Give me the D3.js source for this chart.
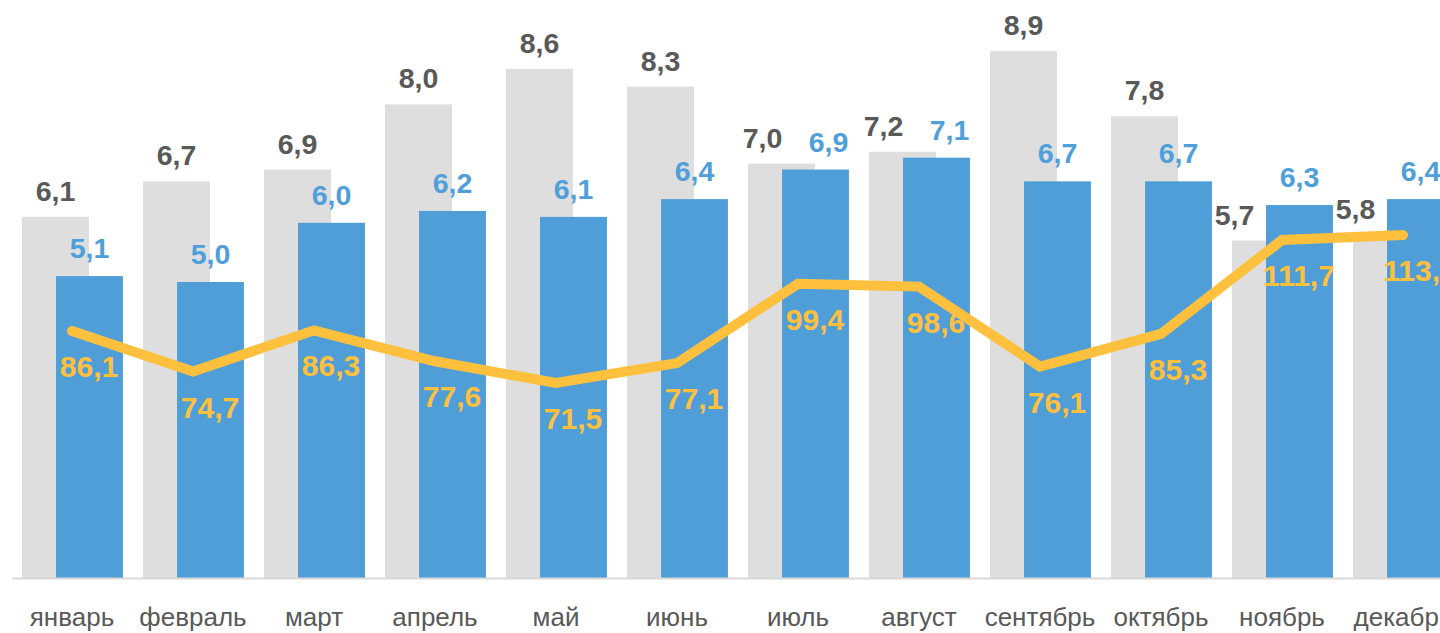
<!DOCTYPE html>
<meta charset="utf-8">

<body style="margin:0;background:#fff;">
    <svg width="1440" height="633"></svg>
</body>
<script src="https://cdn.jsdelivr.net/npm/d3@7"></script>
<script>
    // данные
    let months = ['январь', 'февраль', 'март', 'апрель', 'май', 'июнь', 'июль', 'август', 'сентябрь', 'октябрь', 'ноябрь', 'декабрь'];
    let prevYear = [6.1, 6.7, 6.9, 8.0, 8.6, 8.3, 7.0, 7.2, 8.9, 7.8, 5.7, 5.8];
    let curYear = [5.1, 5.0, 6.0, 6.2, 6.1, 6.4, 6.9, 7.1, 6.7, 6.7, 6.3, 6.4];
    let ratio = [86.1, 74.7, 86.3, 77.6, 71.5, 77.1, 99.4, 98.6, 76.1, 85.3, 111.7, 113.1];

    let svg = d3.select('svg'),
        baseY = 578,
        fmt = (v) => v.toFixed(1).replace('.', ',');

    let x = d3.scaleBand().domain(months).range([11.5, 1463.5]);
    let step = x.step(),
        barW = step * 0.553,
        greyOff = step * 0.087,
        blueOff = step * 0.368;

    let y = d3.scaleLinear().domain([0, 9.5]).range([baseY, baseY - 562.4]);
    let y2 = d3.scaleLinear().domain([0, 160]).range([637.2, 68.3]);

    let rows = months.map((m, i) => ({ m, p: prevYear[i], c: curYear[i], r: ratio[i] }));

    // серые столбцы
    svg.append('g').selectAll('rect').data(rows).join('rect')
        .attr('x', d => x(d.m) + greyOff)
        .attr('y', d => y(d.p))
        .attr('width', barW)
        .attr('height', d => baseY - y(d.p))
        .attr('fill', '#DEDEDE');

    // синие столбцы
    svg.append('g').selectAll('rect').data(rows).join('rect')
        .attr('x', d => x(d.m) + blueOff)
        .attr('y', d => y(d.c))
        .attr('width', barW)
        .attr('height', d => baseY - y(d.c))
        .attr('fill', '#4F9ED8');

    // ось
    svg.append('line')
        .attr('x1', 12).attr('x2', 1440)
        .attr('y1', baseY + 0.5).attr('y2', baseY + 0.5)
        .attr('stroke', '#D9D9D9').attr('stroke-width', 2);

    let axis = d3.axisBottom(x).tickSize(0).tickPadding(30);
    let ax = svg.append('g').attr('transform', `translate(0,${baseY})`).call(axis);
    ax.select('.domain').remove();
    ax.selectAll('text')
        .attr('fill', '#595959')
        .style('font', '26px "Liberation Sans", Arial, sans-serif');

    // линия
    let cx = d => x(d.m) + step / 2;
    svg.append('path')
        .datum(rows)
        .attr('d', d3.line().x(cx).y(d => y2(d.r)))
        .attr('fill', 'none')
        .attr('stroke', '#FFC03D')
        .attr('stroke-width', 10)
        .attr('stroke-linecap', 'round')
        .attr('stroke-linejoin', 'miter');

    let lblFont = 'bold 28.5px "Liberation Sans", Arial, sans-serif';

    // подписи серых столбцов (сдвиг влево, если мешает синий)
    svg.append('g').selectAll('text').data(rows).join('text')
        .attr('x', d => {
            let c = x(d.m) + greyOff + barW / 2;
            if (d.c > d.p) return c - 31;
            if (d.p - d.c < 0.3) return c - 19;
            return c;
        })
        .attr('y', d => y(d.p) - 16)
        .attr('text-anchor', 'middle')
        .attr('fill', '#595959')
        .style('font', lblFont)
        .text(d => fmt(d.p));

    // подписи синих столбцов
    svg.append('g').selectAll('text').data(rows).join('text')
        .attr('x', d => {
            let c = x(d.m) + blueOff + barW / 2;
            if (d.c <= d.p && d.p - d.c < 0.3) return c + 13;
            return c;
        })
        .attr('y', d => y(d.c) - 18)
        .attr('text-anchor', 'middle')
        .attr('fill', '#4F9FDA')
        .style('font', lblFont)
        .text(d => fmt(d.c));

    // подписи линии
    svg.append('g').selectAll('text').data(rows).join('text')
        .attr('x', d => cx(d) + 17)
        .attr('y', d => y2(d.r) + 46)
        .attr('text-anchor', 'middle')
        .attr('fill', '#FFC03D')
        .style('font', 'bold 30px "Liberation Sans", Arial, sans-serif')
        .text(d => fmt(d.r));
</script>
